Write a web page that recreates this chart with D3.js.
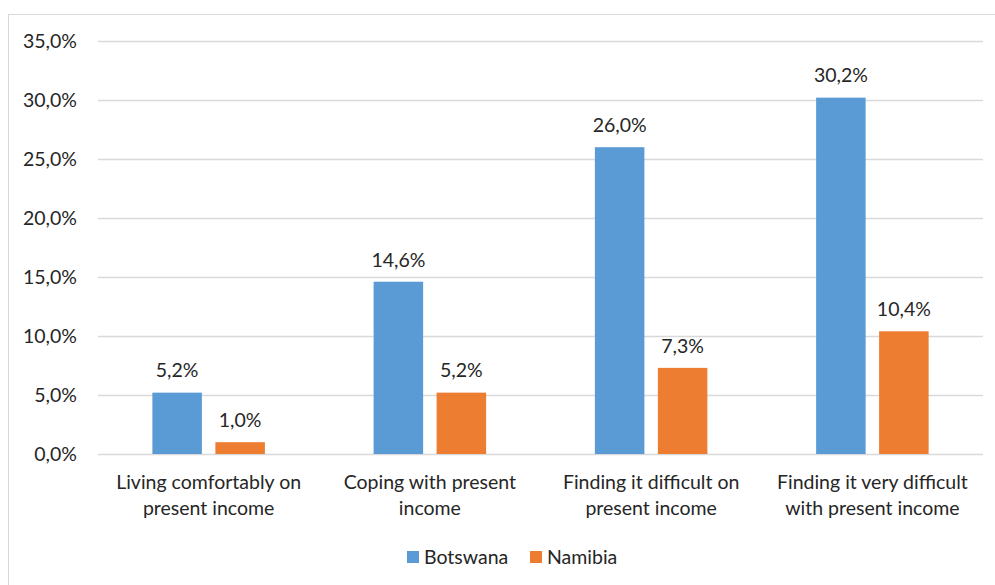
<!DOCTYPE html>
<html>
<head>
<meta charset="utf-8">
<script src="https://cdn.jsdelivr.net/npm/d3@7"></script>
<style>
  html, body { margin: 0; padding: 0; background: #fff; }
  svg { display: block; }
  text { font-family: Lato, "Open Sans", sans-serif; fill: #262626; }
</style>
</head>
<body>
<svg id="chart" width="995" height="585"></svg>
<script>
// Self-assessed income situation, share of respondents by country
const categories = [
  "Living comfortably on present income",
  "Coping with present income",
  "Finding it difficult on present income",
  "Finding it very difficult with present income"
];
const categoryLines = [
  ["Living comfortably on", "present income"],
  ["Coping with present", "income"],
  ["Finding it difficult on", "present income"],
  ["Finding it very difficult", "with present income"]
];
const seriesNames = ["Botswana", "Namibia"];
const botswana = [5.2, 14.6, 26.0, 30.2];
const namibia = [1.0, 5.2, 7.3, 10.4];
const yTicks = [0, 5, 10, 15, 20, 25, 30, 35];
const colors = ["#5b9bd5", "#ed7d31"];

const seriesValues = [botswana, namibia];
const fmt = v => d3.format(".1f")(v).replace(".", ",") + "%";

const svg = d3.select("#chart");
const W = 995, H = 585;
const plot = { left: 98, right: 983, top: 41, bottom: 454 };
const fontSize = 19.5;

// chart frame
svg.append("rect")
  .attr("x", 8.5).attr("y", 14.5)
  .attr("width", W).attr("height", H)
  .attr("fill", "#fff").attr("stroke", "#d9d9d9").attr("stroke-width", 1);

const y = d3.scaleLinear().domain([0, 35]).range([plot.bottom, plot.top]);
const x = d3.scaleBand().domain(categories).range([plot.left, plot.right]).padding(0);
const groupW = x.bandwidth() * 0.5085;
const xs = d3.scaleBand().domain(seriesNames).range([0, groupW]).paddingInner(0.214).paddingOuter(0);

// gridlines
svg.append("g").selectAll("line").data(yTicks).join("line")
  .attr("x1", plot.left).attr("x2", plot.right)
  .attr("y1", d => Math.round(y(d)) + 0.5).attr("y2", d => Math.round(y(d)) + 0.5)
  .attr("stroke", "#d9d9d9").attr("stroke-width", 1.3);

// y axis labels
const yAxis = d3.axisLeft(y).tickValues(yTicks).tickFormat(fmt).tickSize(0).tickPadding(0);
const gy = svg.append("g").attr("transform", `translate(77,0)`).call(yAxis);
gy.select(".domain").remove();
gy.selectAll("text").attr("font-size", fontSize).attr("font-family", "Lato").attr("fill", "#262626").attr("dy", "0.35em");

// bars
const groups = svg.append("g").selectAll("g").data(categories).join("g")
  .attr("transform", d => `translate(${x(d) + (x.bandwidth() - groupW) / 2},0)`);

const barData = (c, i) => seriesNames.map((s, k) => ({ s, k, v: seriesValues[k][i] }));

groups.each(function (c, i) {
  const g = d3.select(this);
  const data = barData(c, i);
  g.selectAll("rect").data(data).join("rect")
    .attr("x", d => xs(d.s))
    .attr("width", xs.bandwidth())
    .attr("y", d => y(d.v))
    .attr("height", d => y(0) - y(d.v))
    .attr("fill", d => colors[d.k]);
  g.selectAll("text.val").data(data).join("text")
    .attr("class", "val")
    .attr("x", d => xs(d.s) + xs.bandwidth() / 2)
    .attr("y", d => y(d.v) - 22)
    .attr("dy", "0.35em")
    .attr("text-anchor", "middle")
    .attr("font-size", fontSize)
    .text(d => fmt(d.v));
});

// category labels
const cat = svg.append("g").selectAll("text").data(categories).join("text")
  .attr("x", d => x(d) + x.bandwidth() / 2)
  .attr("y", 482)
  .attr("text-anchor", "middle")
  .attr("font-size", fontSize);
cat.each(function (d, i) {
  d3.select(this).selectAll("tspan").data(categoryLines[i]).join("tspan")
    .attr("x", x(d) + x.bandwidth() / 2)
    .attr("dy", (t, j) => j === 0 ? "0.35em" : "26px")
    .text(t => t);
});

// legend
const legendX = [407, 530];
const lg = svg.append("g").selectAll("g").data(seriesNames).join("g")
  .attr("transform", (d, i) => `translate(${legendX[i]},551)`);
lg.append("rect").attr("width", 12).attr("height", 12).attr("fill", (d, i) => colors[i]);
lg.append("text").attr("x", 17).attr("y", 6).attr("dy", "0.35em")
  .attr("font-size", fontSize).text(d => d);
</script>
</body>
</html>
